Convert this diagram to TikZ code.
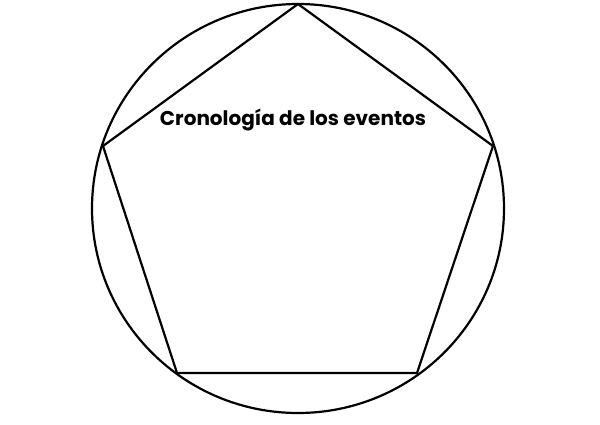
\documentclass[tikz,border=0pt]{standalone}
\usepackage{fontspec}
\setmainfont{Poppins}[UprightFont=* Bold]
\usetikzlibrary{positioning}
\tikzset{line/.style={line width=2.2pt,line join=round},title/.style={font=\fontsize{20}{24}\selectfont}}

\begin{document}
\begin{tikzpicture}[x=1pt,y=-1pt]
\useasboundingbox (0,0) rectangle (600,424);
\coordinate (top) at (298,4);
\coordinate (rgt) at (493,146);
\coordinate (brgt) at (417,373);
\coordinate (blft) at (177,373);
\coordinate (lft) at (103,146);
\draw[line] (298,208.5) ellipse [x radius=206, y radius=204.5];
\draw[line] (top) -- (rgt) -- (brgt) -- (blft) -- (lft) -- cycle;
\node[title] (name) at (293,120) {Cronología de los eventos};
\end{tikzpicture}
\end{document}
